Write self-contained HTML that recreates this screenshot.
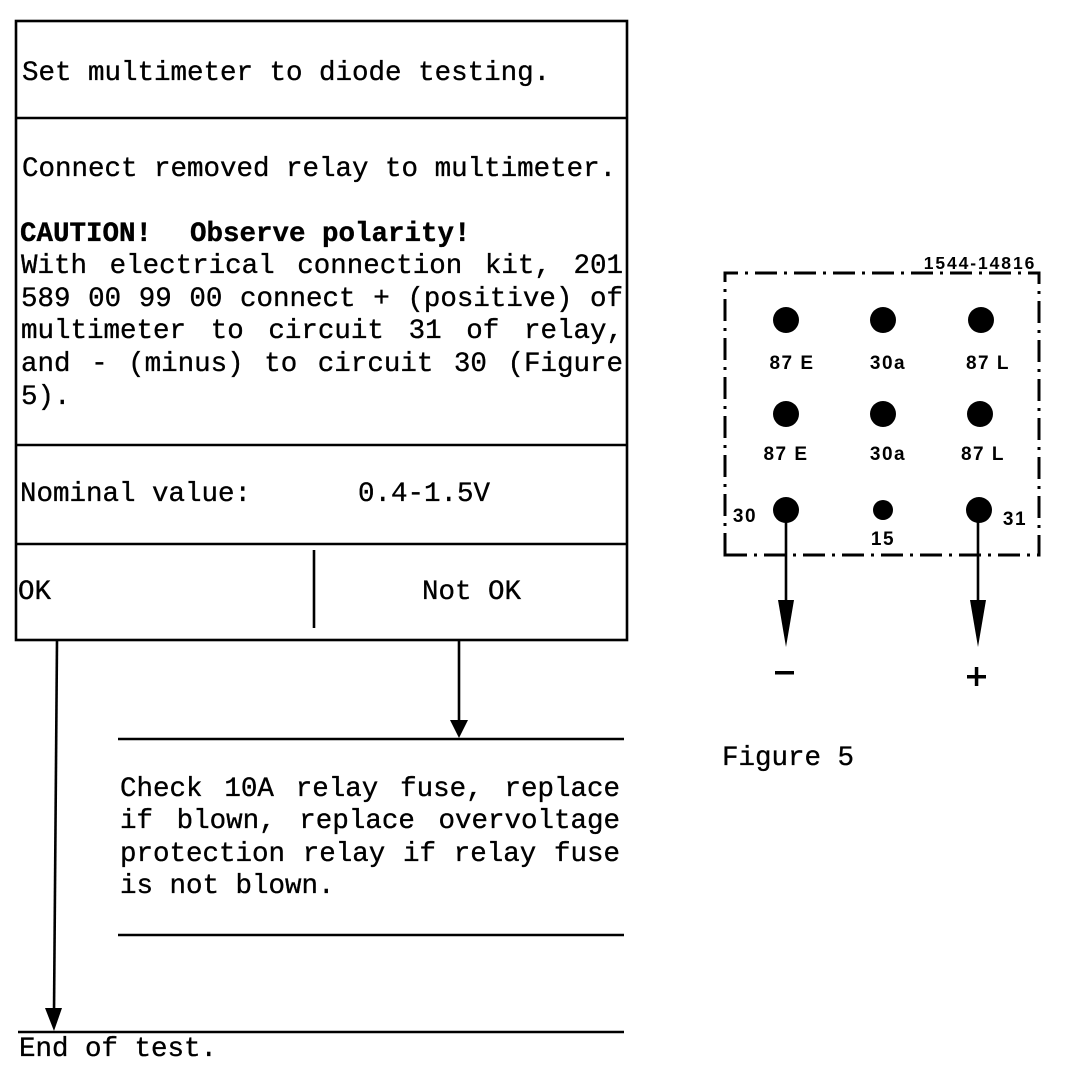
<!DOCTYPE html>
<html>
<head>
<meta charset="utf-8">
<style>
  html, body { margin:0; padding:0; background:#fff; }
  body { width:1088px; height:1078px; position:relative; overflow:hidden; }
  .t { position:absolute; font-family:"Liberation Mono", monospace; font-size:27.5px; line-height:33px; color:#000; white-space:pre; -webkit-text-stroke:0.35px #000; }
  .j { position:absolute; font-family:"Liberation Mono", monospace; font-size:27.5px; line-height:32.7px; color:#000; -webkit-text-stroke:0.35px #000; }
  .j div { text-align:justify; text-align-last:justify; white-space:normal; }
  .j div.l { text-align-last:left; }
  svg { position:absolute; left:0; top:0; }
</style>
</head>
<body>
<svg width="1088" height="1078" viewBox="0 0 1088 1078">
  <!-- main box -->
  <g stroke="#000" stroke-width="2.6" fill="none">
    <rect x="16" y="21" width="611" height="619"/>
    <line x1="16" y1="118" x2="627" y2="118"/>
    <line x1="16" y1="445" x2="627" y2="445"/>
    <line x1="16" y1="544" x2="627" y2="544"/>
    <line x1="314" y1="550" x2="314" y2="628"/>
    <!-- Not OK connector -->
    <line x1="459" y1="640" x2="459" y2="725"/>
    <line x1="118" y1="739" x2="624" y2="739"/>
    <line x1="118" y1="935" x2="624" y2="935"/>
    <!-- OK connector -->
    <line x1="57" y1="640" x2="54" y2="1012"/>
    <line x1="18" y1="1032" x2="624" y2="1032"/>
  </g>
  <polygon points="450,720 468,720 459,738" fill="#000"/>
  <polygon points="45,1008 62,1008 54,1031" fill="#000"/>

  <!-- Figure 5 -->
  <g stroke="#000" stroke-width="3" fill="none" stroke-dasharray="22 7 3 7">
    <path d="M725 555 L725 273 L1039 273 L1039 555 Z"/>
  </g>
  <text x="980" y="269" font-family="Liberation Sans, sans-serif" font-weight="bold" font-size="17.5" letter-spacing="1.9" text-anchor="middle" fill="#000">1544-14816</text>
  <g fill="#000">
    <circle cx="786" cy="320" r="13"/>
    <circle cx="883" cy="320" r="13"/>
    <circle cx="981" cy="320" r="13"/>
    <circle cx="786" cy="414" r="13"/>
    <circle cx="883" cy="414" r="13"/>
    <circle cx="980" cy="414" r="13"/>
    <circle cx="786" cy="510" r="13"/>
    <circle cx="883" cy="510" r="10"/>
    <circle cx="979" cy="510" r="13"/>
  </g>
  <g font-family="Liberation Sans, sans-serif" font-weight="bold" font-size="19" letter-spacing="1.5" text-anchor="middle" fill="#000">
    <text x="792" y="369">87 E</text>
    <text x="888" y="369">30a</text>
    <text x="988" y="369">87 L</text>
    <text x="786" y="460">87 E</text>
    <text x="888" y="460">30a</text>
    <text x="983" y="460">87 L</text>
    <text x="745" y="522">30</text>
    <text x="1015" y="525">31</text>
    <text x="883" y="545">15</text>
  </g>
  <g stroke="#000" stroke-width="2.6">
    <line x1="786" y1="510" x2="786" y2="610"/>
    <line x1="978" y1="510" x2="978" y2="610"/>
  </g>
  <polygon points="778,600 794,600 786,647" fill="#000"/>
  <polygon points="970,600 986,600 978,647" fill="#000"/>
  <rect x="775" y="671" width="19" height="3.5" fill="#000"/>
  <rect x="967" y="675" width="19" height="3.5" fill="#000"/>
  <rect x="974.8" y="667" width="3.5" height="19" fill="#000"/>
</svg>

<div class="t" style="left:22px; top:57px;">Set multimeter to diode testing.</div>
<div class="t" style="left:22px; top:153px;">Connect removed relay to multimeter.</div>
<div class="t" style="left:20px; top:218px; font-weight:bold;">CAUTION!</div>
<div class="t" style="left:190px; top:218px; font-weight:bold;">Observe polarity!</div>
<div class="j" style="left:21px; top:251px; width:602px;">
  <div>With electrical connection kit, 201</div>
  <div>589 00 99 00 connect + (positive) of</div>
  <div>multimeter to circuit 31 of relay,</div>
  <div>and - (minus) to circuit 30 (Figure</div>
  <div class="l">5).</div>
</div>
<div class="t" style="left:20px; top:478px;">Nominal value:</div>
<div class="t" style="left:358px; top:478px;">0.4-1.5V</div>
<div class="t" style="left:18px; top:576px;">OK</div>
<div class="t" style="left:422px; top:576px;">Not OK</div>

<div class="j" style="left:120px; top:774px; width:500px; line-height:32.4px;">
  <div>Check 10A relay fuse, replace</div>
  <div>if blown, replace overvoltage</div>
  <div>protection relay if relay fuse</div>
  <div class="l">is not blown.</div>
</div>

<div class="t" style="left:722px; top:742px;">Figure 5</div>
<div class="t" style="left:19px; top:1033px;">End of test.</div>
</body>
</html>
